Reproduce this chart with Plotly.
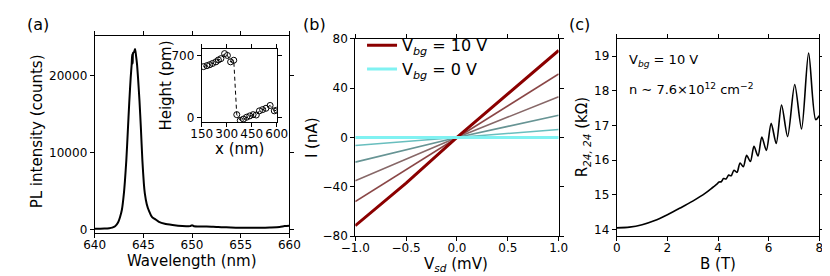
import plotly.graph_objects as go

# ---------------- data ----------------
# (a) PL spectrum
wavelength = [640.0, 640.5, 641.0, 641.5, 641.8, 642.1, 642.4, 642.6, 642.8, 643.0,
              643.1, 643.25, 643.4, 643.55, 643.7, 643.8, 643.85, 643.9, 643.95, 644.05,
              644.15, 644.25, 644.35, 644.45, 644.6, 644.75, 644.9, 645.05, 645.15, 645.35,
              645.6, 645.9, 646.2, 646.6, 647.2, 648.0, 649.0, 649.8, 650.0, 650.2,
              651.0, 652.0, 652.5, 653.0, 654.0, 655.0, 656.0, 657.0, 658.0, 659.0,
              659.5, 660.0]
pl_counts = [100, 110, 120, 170, 250, 420, 900, 1600, 2600, 4700,
             6200, 9000, 12700, 16500, 19800, 21500, 22800, 21600, 23000, 23100,
             23500, 22600, 21500, 19800, 16800, 13100, 9000, 6000, 4700, 3300,
             2350, 1600, 1350, 1000, 750, 600, 470, 440, 560, 430,
             400, 360, 340, 300, 260, 220, 210, 220, 260, 330,
             450, 500]
pl_ticks = [0, 10000, 20000]
pl_ticktext = ["0", "10000", "20000"]

# (a) inset: AFM height profile
inset_x = [161, 181, 198, 215, 235, 250, 265, 287, 304, 323, 342,
           360, 381, 400, 419, 438, 458, 477, 496, 515, 535, 560, 585, 600]
inset_h = [578, 589, 600, 614, 632, 653, 668, 725, 704, 632, 650,
           36, -29, -14, 7, 22, 36, 32, 79, 93, 108, 140, 79, 86]

# (b) I-V curves
v_sd = [-1.0, -0.5, 0.0, 0.5, 1.0]
iv_curves = {
    "10V": [-71.5, -37.0, 0.0, 35.0, 70.5],
    "8V": [-52.0, -26.0, 0.0, 25.5, 51.5],
    "6V": [-35.0, -17.5, 0.0, 16.5, 33.0],
    "4V": [-20.0, -10.0, 0.0, 9.0, 18.0],
    "2V": [-6.5, -3.3, 0.0, 3.2, 6.5],
    "0V": [0.0, 0.0, 0.0, 0.0, 0.0],
}
iv_colors = {
    "10V": "#8b0000", "8V": "#8a4646", "6V": "#876868",
    "4V": "#679494", "2V": "#68bebe", "0V": "#80f2f2",
}
iv_widths = {"10V": 3, "8V": 1.6, "6V": 1.6, "4V": 1.6, "2V": 1.6, "0V": 3}

# (c) magnetoresistance
b_field = [0.0, 0.5, 1.0, 1.5, 2.0, 2.5, 3.0, 3.5, 3.8, 3.94, 4.04, 4.13, 4.22, 4.32, 4.42,
           4.52, 4.63, 4.75, 4.87, 5.00, 5.13, 5.28, 5.42, 5.58, 5.73, 5.91, 6.10,
           6.30, 6.51, 6.75, 7.03, 7.30, 7.58, 7.86, 8.0]
r_2424 = [14.05, 14.07, 14.14, 14.26, 14.43, 14.62, 14.82, 15.05, 15.22, 15.30, 15.37, 15.38,
          15.47, 15.46, 15.57, 15.55, 15.71, 15.65, 15.92, 15.81, 16.14, 15.96, 16.40,
          16.12, 16.67, 16.28, 17.06, 16.48, 17.59, 16.68, 18.18, 16.90, 19.09, 17.17,
          17.28]

W, H = 830, 276
FONT = "DejaVu Sans"


def px(x):
    return x / W


def py(y):
    return 1 - y / H


fig = go.Figure()

# (a) spectrum
fig.add_trace(go.Scatter(x=wavelength, y=pl_counts, mode="lines",
                         line=dict(color="black", width=2, shape="spline", smoothing=0.6),
                         xaxis="x", yaxis="y", showlegend=False))
# (a) inset
fig.add_trace(go.Scatter(x=inset_x, y=inset_h, mode="lines+markers",
                         line=dict(color="black", width=1, dash="4px,3px"),
                         marker=dict(symbol="circle-open", size=6, color="black",
                                     line=dict(width=1)),
                         xaxis="x4", yaxis="y4", showlegend=False, cliponaxis=True))

# (b) I-V
order = ["8V", "6V", "4V", "2V", "10V", "0V"]
for k in order:
    fig.add_trace(go.Scatter(
        x=v_sd, y=iv_curves[k], mode="lines",
        line=dict(color=iv_colors[k], width=iv_widths[k]),
        xaxis="x2", yaxis="y2",
        showlegend=k in ("10V", "0V"),
        legendrank=1 if k == "10V" else 2,
        name=("V<sub><i>bg</i></sub> = 10 V" if k == "10V" else "V<sub><i>bg</i></sub> = 0 V"),
    ))

# (c) R vs B
fig.add_trace(go.Scatter(x=b_field, y=r_2424, mode="lines",
                         line=dict(color="black", width=1.6, shape="spline", smoothing=0.8),
                         xaxis="x3", yaxis="y3", showlegend=False))

axis_common = dict(showline=True, linecolor="black", linewidth=1, mirror="ticks",
                   ticks="outside", ticklen=4, tickwidth=1, tickcolor="black",
                   showgrid=False, zeroline=False,
                   tickfont=dict(family=FONT, size=12, color="black"))
xaxis_common = dict(axis_common, ticklabelstandoff=-4)


def label(text, x, y, angle=0, size=15, xanchor="center"):
    return dict(text=text, x=px(x), y=py(y), xref="paper", yref="paper",
                xanchor=xanchor, yanchor="middle", showarrow=False, textangle=angle,
                font=dict(family=FONT, size=size, color="black"))


fig.update_layout(
    width=W, height=H,
    margin=dict(l=0, r=0, t=0, b=0),
    paper_bgcolor="white", plot_bgcolor="white",
    font=dict(family=FONT, color="black"),
    xaxis=dict(domain=[px(74), px(275)], range=[640, 660], tickvals=[640, 645, 650, 655, 660],
               anchor="y", **xaxis_common),
    yaxis=dict(domain=[py(230), py(22)], range=[-500, 25200], tickvals=pl_ticks,
               ticktext=pl_ticktext, anchor="x", **axis_common),
    xaxis2=dict(domain=[px(343), px(553)], range=[-1, 1], tickvals=[-1, -0.5, 0, 0.5, 1],
                ticktext=["\u22121.0", "\u22120.5", "0.0", "0.5", "1.0"],
                anchor="y2", **xaxis_common),
    yaxis2=dict(domain=[py(233), py(25)], range=[-80, 80], tickvals=[-80, -40, 0, 40, 80],
                ticktext=["\u221280", "\u221240", "0", "40", "80"],
                anchor="x2", **axis_common),
    xaxis3=dict(domain=[px(613), px(822)], range=[0, 8], tickvals=[0, 2, 4, 6, 8],
                anchor="y3", **xaxis_common),
    yaxis3=dict(domain=[py(233), py(25)], range=[13.81, 19.5], tickvals=[14, 15, 16, 17, 18, 19],
                anchor="x3", **axis_common),
    xaxis4=dict(domain=[px(184.5), px(262)], range=[150, 600], tickvals=[150, 300, 450, 600],
                anchor="y4", **xaxis_common),
    yaxis4=dict(domain=[py(113), py(36)], range=[-50, 775], tickvals=[0, 700],
                anchor="x4", **axis_common),
    legend=dict(x=px(350), y=py(14), xanchor="left", yanchor="top",
                bgcolor="rgba(0,0,0,0)", borderwidth=0,
                font=dict(family=FONT, size=16, color="black"),
                itemwidth=30, tracegroupgap=0),
    annotations=[
        # axis titles
        label("Wavelength (nm)", 174.5, 259),
        label("PL intensity (counts)", 14, 123, angle=-90),
        label("V<sub><i>sd</i></sub> (mV)", 447.5, 263),
        label("I (nA)", 299, 129, angle=-90),
        label("B (T)", 717, 262),
        label("R<sub><i>24, 24</i></sub> (k\u03a9)", 578, 129, angle=-90),
        label("x (nm)", 223, 141),
        label("Height (pm)", 148, 74, angle=-90),
        # panel letters
        label("(a)", 2, 10, size=16, xanchor="left"),
        label("(b)", 287, 10, size=16, xanchor="left"),
        label("(c)", 562, 10, size=16, xanchor="left"),
        # panel (c) notes
        label("V<sub><i>bg</i></sub> = 10 V", 624, 48, size=13, xanchor="left"),
        label("n \u223c 7.6\u00d710<sup>12</sup> cm<sup>\u22122</sup>", 624, 78, size=13,
              xanchor="left"),
    ],
)

fig.write_html("out.html")
